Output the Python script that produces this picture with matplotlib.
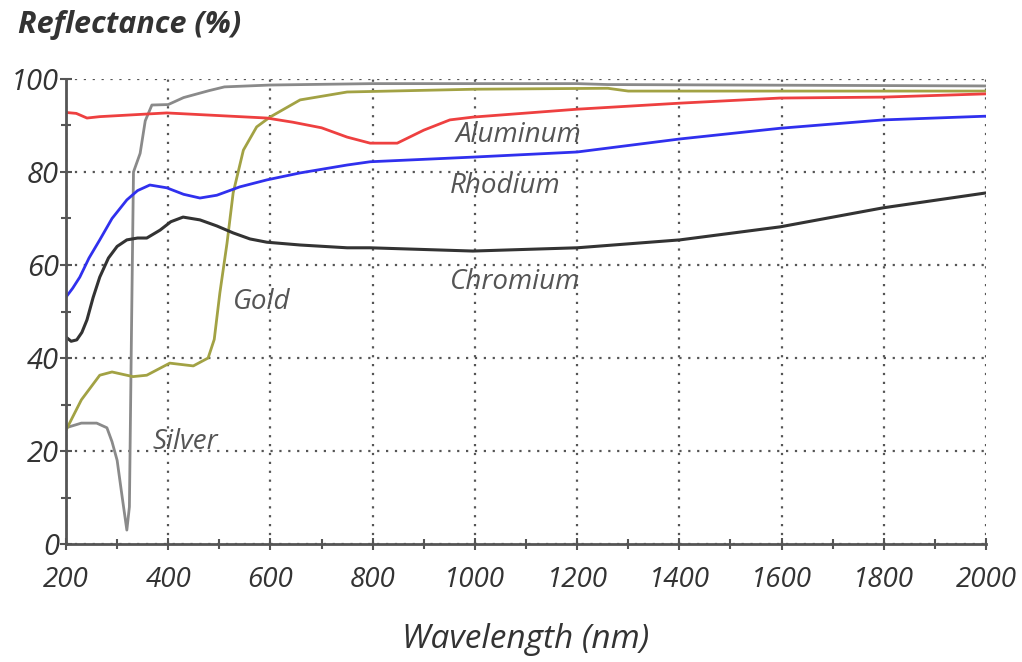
import matplotlib
matplotlib.use("Agg")
import matplotlib.pyplot as plt
from matplotlib.ticker import MultipleLocator

plt.rcParams['font.family'] = ['Open Sans', 'DejaVu Sans']

# Reflectance curves (wavelength nm, reflectance %)
silver_nm = [200, 230, 260, 280, 290, 300, 310, 319, 324, 328, 332, 345, 355, 368,
             400, 430, 480, 510, 600, 800, 1200, 1260, 2000]
silver_r = [25, 26, 26, 25, 22, 18, 10, 3, 8, 45, 80, 84, 91, 94.4,
            94.5, 96, 97.5, 98.3, 98.7, 99, 99, 98.8, 98.5]

gold_nm = [200, 230, 266, 290, 331, 358, 403, 449, 478, 490, 501, 515, 527, 547,
           573, 599, 658, 750, 1000, 1260, 1300, 2000]
gold_r = [24.5, 31, 36.3, 37, 36, 36.3, 38.9, 38.3, 40, 44, 54, 64.7, 75.5, 84.7,
          89.7, 91.8, 95.5, 97.2, 97.8, 98, 97.4, 97.4]

aluminum_nm = [200, 220, 241, 266, 397, 593, 644, 700, 750, 795, 848, 900, 951,
               996, 1200, 1401, 1597, 1799, 2000]
aluminum_r = [92.8, 92.6, 91.6, 91.9, 92.7, 91.6, 90.7, 89.5, 87.5, 86.2, 86.2, 89, 91.2,
              91.8, 93.5, 94.8, 95.9, 96.1, 96.8]

rhodium_nm = [200, 213, 227, 245, 266, 290, 319, 340, 364, 397, 430, 462, 495, 540,
              593, 658, 750, 795, 996, 1200, 1401, 1597, 1799, 2000]
rhodium_r = [53.1, 55, 57.4, 61.5, 65.4, 70, 74, 76, 77.2, 76.6, 75.2, 74.4, 75, 76.8,
             78.3, 79.8, 81.5, 82.2, 83.2, 84.3, 87.1, 89.4, 91.2, 92]

chromium_nm = [200, 210, 221, 231, 241, 253, 266, 283, 300, 319, 340, 358, 384, 405,
               429, 462, 495, 527, 560, 593, 658, 750, 795, 996, 1200, 1401, 1597,
               1799, 2000]
chromium_r = [44.5, 43.6, 43.9, 45.5, 48.2, 53, 57.4, 61.5, 64, 65.4, 65.8, 65.8, 67.5, 69.3,
              70.3, 69.7, 68.4, 66.9, 65.6, 64.9, 64.3, 63.7, 63.7, 63, 63.7, 65.4, 68.2,
              72.3, 75.5]

fig = plt.figure(figsize=(10.22, 6.62), dpi=100)
ax = fig.add_axes([0.0646, 0.1782, 0.9002, 0.7025])

ax.plot(silver_nm, silver_r, color='#8a8a8a', lw=2)
ax.plot(gold_nm, gold_r, color='#a2a244', lw=2)
ax.plot(aluminum_nm, aluminum_r, color='#ee4040', lw=2)
ax.plot(rhodium_nm, rhodium_r, color='#3030ee', lw=2)
ax.plot(chromium_nm, chromium_r, color='#333333', lw=2.2)

ax.set_xlim(200, 2000)
ax.set_ylim(0, 100)
ax.xaxis.set_major_locator(MultipleLocator(200))
ax.xaxis.set_minor_locator(MultipleLocator(100))
ax.yaxis.set_major_locator(MultipleLocator(20))
ax.yaxis.set_minor_locator(MultipleLocator(10))

ax.grid(True, which='major', linestyle=(0, (1, 3)), color='#555555', lw=1.6)
for s in ['top', 'right']:
    ax.spines[s].set_visible(False)
for s in ['left', 'bottom']:
    ax.spines[s].set_color('#555555')
    ax.spines[s].set_linewidth(2)

ax.tick_params(which='both', direction='inout', color='#555555', width=1.5)
ax.tick_params(which='major', length=8)
ax.tick_params(which='minor', length=7)
ax.tick_params(axis='x', labelsize=20, pad=12, labelcolor='#333333')
ax.tick_params(axis='y', labelsize=21, pad=1, labelcolor='#333333')
for lab in ax.get_xticklabels() + ax.get_yticklabels():
    lab.set_fontstyle('italic')

ax.set_xlabel('Wavelength (nm)', fontsize=24, style='italic', color='#333333', labelpad=21)
fig.text(0.018, 0.962, 'Reflectance (%)', fontsize=22, style='italic', fontweight='bold',
         color='#333333', va='center', ha='left')

lab_kw = dict(fontsize=20, style='italic', color='#555555', va='center', ha='center')
ax.text(1086, 88, 'Aluminum', **lab_kw)
ax.text(1059, 77, 'Rhodium', **lab_kw)
ax.text(1078, 56.3, 'Chromium', **lab_kw)
ax.text(583, 52, 'Gold', **lab_kw)
ax.text(433, 22, 'Silver', **lab_kw)

fig.savefig('out.png', dpi=100)
